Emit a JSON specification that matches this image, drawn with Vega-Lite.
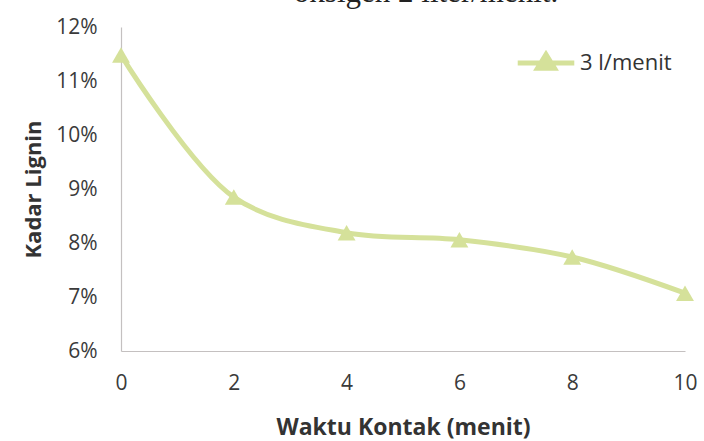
{
  "$schema": "https://vega.github.io/schema/vega-lite/v6.json",
  "autosize": "none",
  "width": 564,
  "height": 324,
  "padding": {"left": 121, "top": 27, "right": 19, "bottom": 90},
  "background": "white",
  "title": {
    "text": "oksigen 2 liter/menit.",
    "font": "Liberation Serif",
    "fontSize": 31,
    "fontWeight": "normal",
    "color": "#222222",
    "anchor": "middle",
    "frame": "group",
    "baseline": "alphabetic",
    "offset": 0,
    "dx": 23,
    "dy": 17
  },
  "data": {
    "values": [
      {"waktu": 0, "kadar": 0.1148, "seri": "3 l/menit"},
      {"waktu": 2, "kadar": 0.0885, "seri": "3 l/menit"},
      {"waktu": 4, "kadar": 0.0819, "seri": "3 l/menit"},
      {"waktu": 6, "kadar": 0.0806, "seri": "3 l/menit"},
      {"waktu": 8, "kadar": 0.0774, "seri": "3 l/menit"},
      {"waktu": 10, "kadar": 0.0707, "seri": "3 l/menit"}
    ]
  },
  "encoding": {
    "x": {
      "field": "waktu",
      "type": "quantitative",
      "scale": {"domain": [0, 10], "nice": false},
      "axis": {
        "title": "Waktu Kontak (menit)",
        "values": [0, 2, 4, 6, 8, 10],
        "grid": false,
        "ticks": false,
        "labelFlush": false,
        "domainColor": "#c4c0c0",
        "domainWidth": 1.2,
        "labelFont": "Open Sans",
        "labelFontSize": 21,
        "labelColor": "#3a3a3a",
        "labelPadding": 21,
        "titleFont": "Open Sans",
        "titleFontSize": 23,
        "titleFontWeight": "bold",
        "titleColor": "#333333",
        "titlePadding": 23
      }
    },
    "y": {
      "field": "kadar",
      "type": "quantitative",
      "scale": {"domain": [0.06, 0.12], "nice": false, "zero": false},
      "axis": {
        "title": "Kadar Lignin",
        "format": ".0%",
        "values": [0.06, 0.07, 0.08, 0.09, 0.1, 0.11, 0.12],
        "grid": false,
        "ticks": false,
        "domainColor": "#c4c0c0",
        "domainWidth": 1.2,
        "labelFont": "Open Sans",
        "labelFontSize": 21,
        "labelColor": "#3a3a3a",
        "labelPadding": 24,
        "titleFont": "Open Sans",
        "titleFontSize": 22,
        "titleFontWeight": "bold",
        "titleColor": "#333333",
        "titlePadding": 10
      }
    },
    "color": {
      "field": "seri",
      "type": "nominal",
      "scale": {"range": ["#d5e19a"]},
      "legend": {
        "title": null,
        "orient": "none",
        "legendX": 394,
        "legendY": 5,
        "symbolType": "M-1,0H1M-0.3,0.19L0,-0.3L0.3,0.19Z",
        "symbolSize": 3200,
        "symbolStrokeWidth": 5,
        "symbolFillColor": "#d5e19a",
        "symbolStrokeColor": "#d5e19a",
        "symbolOpacity": 1,
        "labelFont": "Open Sans",
        "labelFontSize": 22,
        "labelColor": "#333333",
        "labelOffset": 3
      }
    }
  },
  "layer": [
    {
      "mark": {"type": "line", "interpolate": "catmull-rom", "strokeWidth": 5, "color": "#d5e19a"}
    },
    {
      "mark": {"type": "point", "shape": "triangle-up", "filled": true, "size": 320, "opacity": 1, "color": "#d5e19a"}
    }
  ],
  "config": {"view": {"stroke": null}}
}
